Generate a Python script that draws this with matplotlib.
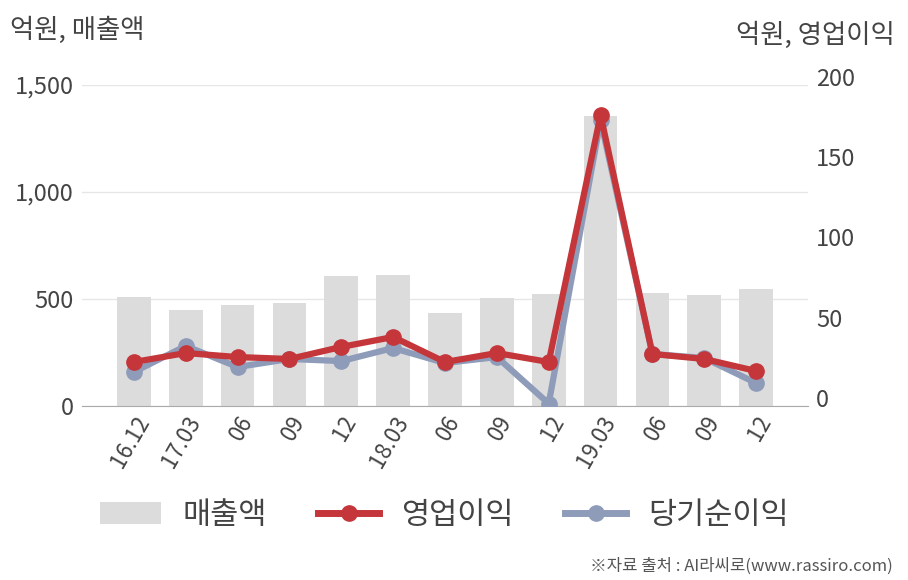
import matplotlib
matplotlib.use("Agg")
import matplotlib.pyplot as plt
from matplotlib.patches import Patch
from matplotlib.lines import Line2D
from matplotlib.transforms import ScaledTranslation

plt.rcParams["font.family"] = ["Noto Sans CJK KR", "DejaVu Sans"]

# ------------------------------------------------------------
# data (억원)
# ------------------------------------------------------------
quarters = ["16.12", "17.03", "06", "09", "12", "18.03", "06", "09", "12",
            "19.03", "06", "09", "12"]
sales = [509, 449, 472, 481, 607, 612, 435, 505, 523, 1355, 528, 519, 547]
op_profit = [27.4, 33.0, 30.5, 29.3, 36.8, 43.0, 27.4, 33.0, 27.4, 181.3, 32.4, 29.3, 21.8]
net_profit = [21.2, 37.4, 24.3, 29.3, 28.0, 36.1, 26.8, 30.5, 1.5, 178.0, 32.4, 29.9, 14.3]

BAR_C = "#dcdcdc"
RED = "#c4363a"
BLUE = "#8e9bb9"
TXT = "#444444"

W, H = 908, 580
fig = plt.figure(figsize=(W / 100, H / 100), dpi=100)
ax = fig.add_axes([82 / W, 1 - 406 / H, 726 / W, 321 / H])

x = list(range(len(quarters)))
ax.bar(x, sales, width=0.65, color=BAR_C, zorder=2)
ax.set_xlim(-1, 13)
ax.set_ylim(0, 1500)
ax.set_yticks([0, 500, 1000, 1500])
ax.set_yticklabels(["0", "500", "1,000", "1,500"])
ax.grid(axis="y", color="#e6e6e6", linewidth=1, zorder=0)
for s in ["top", "right", "left"]:
    ax.spines[s].set_visible(False)
ax.spines["bottom"].set_color("#aaaaaa")
ax.tick_params(axis="y", length=0, labelsize=17, labelcolor=TXT, pad=6)
ax.tick_params(axis="x", length=0, labelsize=16, labelcolor=TXT, pad=4)
ax.set_xticks(x)
ax.set_xticklabels(quarters, rotation=60, ha="right", rotation_mode="anchor")

# right axis for profits
ax2 = ax.twinx()
ax2.set_ylim(0, 200)
ax2.set_yticks([0, 50, 100, 150, 200])
for s in ["top", "right", "left", "bottom"]:
    ax2.spines[s].set_visible(False)
ax2.tick_params(axis="y", length=0, labelsize=17, labelcolor=TXT, pad=6)
# right labels sit a bit above their gridlines in the original
shift = ScaledTranslation(0, 8 / 100, fig.dpi_scale_trans)
for lab in ax2.get_yticklabels():
    lab.set_transform(lab.get_transform() + shift)
ax2.plot(x, net_profit, color=BLUE, lw=4.5, marker="o", ms=11, zorder=3,
         solid_capstyle="round")
ax2.plot(x, op_profit, color=RED, lw=4.5, marker="o", ms=11, zorder=4,
         solid_capstyle="round")

# axis titles
fig.text(10 / W, 1 - 30 / H, "억원, 매출액", fontsize=19, color=TXT, va="center", ha="left")
fig.text(895 / W, 1 - 35 / H, "억원, 영업이익", fontsize=19, color=TXT, va="center", ha="right")

# legend
handles = [
    Patch(facecolor=BAR_C, edgecolor="none"),
    Line2D([0], [0], color=RED, lw=5, marker="o", ms=11),
    Line2D([0], [0], color=BLUE, lw=5, marker="o", ms=11),
]
fig.legend(handles, ["매출액", "영업이익", "당기순이익"], loc="center",
           bbox_to_anchor=(444 / W, 1 - 515 / H), ncol=3, frameon=False,
           fontsize=22, handlelength=2.0, handleheight=0.7, columnspacing=1.7,
           handletextpad=0.7, labelcolor=TXT)

fig.text(893 / W, 1 - 566 / H, "※자료 출처 : AI라씨로(www.rassiro.com)",
         fontsize=12, color="#555555", ha="right", va="center")

fig.savefig("out.png", dpi=100)
